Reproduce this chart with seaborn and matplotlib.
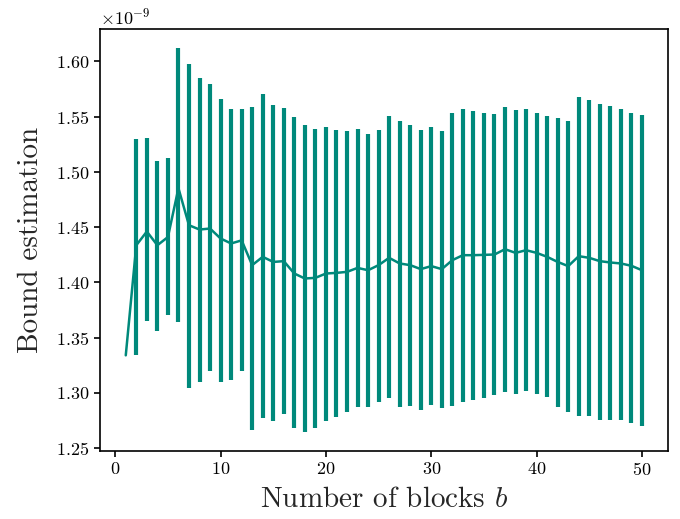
import numpy as np
import pandas as pd
import matplotlib
matplotlib.use("Agg")
import matplotlib.pyplot as plt
import seaborn as sns

blocks = list(range(1, 51))
mean_vals = [1.334, 1.4336, 1.446, 1.4336, 1.441, 1.4852, 1.4517, 1.4478, 1.4487, 1.4397,
             1.4352, 1.438, 1.4156, 1.4231, 1.4185, 1.4192, 1.408, 1.4035, 1.4041, 1.408,
             1.4086, 1.4095, 1.4131, 1.411, 1.4156, 1.4222, 1.4171, 1.4156, 1.412, 1.4147,
             1.412, 1.4201, 1.4246, 1.4246, 1.4249, 1.4252, 1.430, 1.4267, 1.4291, 1.4267,
             1.4231, 1.4185, 1.4147, 1.4237, 1.4222, 1.4192, 1.418, 1.4171, 1.415, 1.411]
upper_vals = [1.334, 1.5295, 1.5304, 1.5096, 1.5126, 1.6118, 1.5973, 1.5846, 1.5792, 1.5656,
              1.5566, 1.5566, 1.5584, 1.5702, 1.5602, 1.5575, 1.5494, 1.5421, 1.5385, 1.5403,
              1.5376, 1.5367, 1.5385, 1.534, 1.5376, 1.5503, 1.5458, 1.5421, 1.5376, 1.5403,
              1.5367, 1.553, 1.5566, 1.5548, 1.553, 1.5521, 1.5584, 1.5557, 1.5566, 1.553,
              1.5503, 1.5485, 1.5458, 1.5674, 1.5647, 1.5611, 1.5593, 1.5566, 1.553, 1.5512]
lower_vals = [1.334, 1.3342, 1.3652, 1.3562, 1.3704, 1.3643, 1.3046, 1.3100, 1.3197, 1.3100,
              1.3116, 1.3197, 1.2664, 1.2775, 1.2745, 1.2808, 1.2684, 1.2648, 1.2684, 1.2745,
              1.2781, 1.2826, 1.2871, 1.2871, 1.2917, 1.2953, 1.2871, 1.288, 1.2844, 1.289,
              1.2862, 1.288, 1.2917, 1.2935, 1.2953, 1.298, 1.3007, 1.2989, 1.3016, 1.2989,
              1.2962, 1.2871, 1.2826, 1.279, 1.279, 1.2754, 1.2754, 1.2754, 1.2727, 1.27]
scale = 1e-9

df = pd.DataFrame({
    "b": blocks,
    "mean": np.array(mean_vals) * scale,
    "lo": np.array(lower_vals) * scale,
    "hi": np.array(upper_vals) * scale,
})

sns.set_style("ticks")
plt.rcParams.update({
    "font.family": "serif",
    "font.serif": ["cmr10", "DejaVu Serif"],
    "mathtext.fontset": "cm",
    "axes.formatter.use_mathtext": True,
    "axes.unicode_minus": True,
    "axes.linewidth": 1.2,
    "xtick.major.width": 1.2,
    "ytick.major.width": 1.2,
    "xtick.major.size": 4,
    "ytick.major.size": 4,
    "xtick.color": "black",
    "ytick.color": "black",
    "axes.edgecolor": "black",
})

color = "#00897b"
fig = plt.figure(figsize=(6.8, 5.19), dpi=100)
ax = fig.add_axes([0.147, 0.131, 0.835, 0.813])

sns.lineplot(data=df, x="b", y="mean", ax=ax, color=color, linewidth=1.8)
ax.vlines(df["b"], df["lo"], df["hi"], color=color, linewidth=3.0)

ax.set_xlabel("Number of blocks $b$", fontsize=21, labelpad=6)
ax.set_ylabel("Bound estimation", fontsize=21, labelpad=9)
ax.tick_params(labelsize=13)
ax.set_xticks([0, 10, 20, 30, 40, 50])
ax.set_yticks(np.array([1.25, 1.30, 1.35, 1.40, 1.45, 1.50, 1.55, 1.60]) * scale)
ax.yaxis.get_offset_text().set_fontsize(13)
for s in ax.spines.values():
    s.set_visible(True)

fig.savefig("out.png", dpi=100)
